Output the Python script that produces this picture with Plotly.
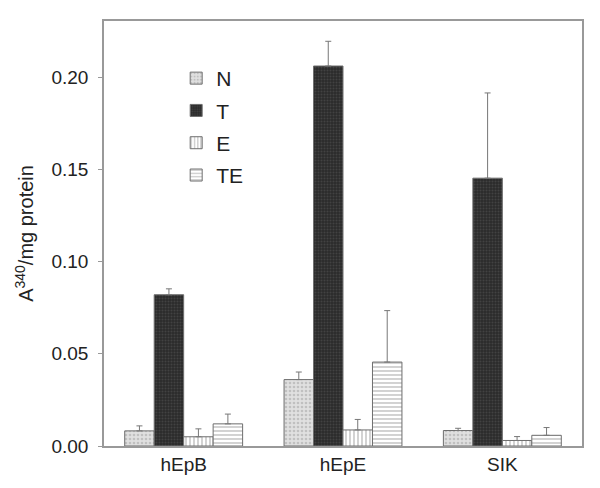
import plotly.graph_objects as go

categories = ["hEpB", "hEpE", "SIK"]
series_names = ["N", "T", "E", "TE"]
values_N = [0.0082, 0.0360, 0.0084]
values_T = [0.0820, 0.2060, 0.1452]
values_E = [0.0050, 0.0087, 0.0030]
values_TE = [0.0120, 0.0455, 0.0058]
err_N = [0.0027, 0.0041, 0.0012]
err_T = [0.0032, 0.0134, 0.0462]
err_E = [0.0043, 0.0057, 0.0021]
err_TE = [0.0053, 0.0279, 0.0042]
y_ticks = [0.00, 0.05, 0.10, 0.15, 0.20]

styles = {
    "N": dict(shape=".", bg="#e0e0e0", fg="#a0a0a0", size=4, solidity=0.35),
    "T": dict(shape=".", bg="#2b2b2b", fg="#5a5a5a", size=3, solidity=0.35),
    "E": dict(shape="|", bg="#ffffff", fg="#6a6a6a", size=4, solidity=0.3),
    "TE": dict(shape="-", bg="#ffffff", fg="#6a6a6a", size=4, solidity=0.3),
}

data = {"N": (values_N, err_N), "T": (values_T, err_T),
        "E": (values_E, err_E), "TE": (values_TE, err_TE)}

fig = go.Figure()
for name in series_names:
    vals, errs = data[name]
    st = styles[name]
    fig.add_trace(go.Bar(
        x=categories, y=vals, name=name, legendgroup=name,
        marker=dict(
            color=st["bg"],
            line=dict(color="#6e6e6e", width=1),
            pattern=dict(shape=st["shape"], fgcolor=st["fg"], bgcolor=st["bg"],
                         size=st["size"], solidity=st["solidity"]),
        ),
        error_y=dict(type="data", array=errs, arrayminus=[0] * len(errs),
                     symmetric=False, color="#777777", thickness=1, width=3),
    ))

# page body has an 8px default margin, so the figure is 8px smaller on each side
fig.update_layout(
    width=592, height=480,
    margin=dict(l=96, r=18, t=11, b=42),
    paper_bgcolor="white", plot_bgcolor="white",
    barmode="group", bargap=0.26, bargroupgap=0,
    font=dict(family="Liberation Sans, Arial, sans-serif", color="#222222"),
    showlegend=True,
    legend=dict(x=0.151, y=0.913, xanchor="left", yanchor="top",
                font=dict(size=21), bgcolor="rgba(0,0,0,0)",
                traceorder="grouped", tracegroupgap=2, itemwidth=30),
    xaxis=dict(range=[-0.5, 2.5], showline=True, linecolor="#999999", linewidth=1.5,
               mirror=True, ticks="", tickfont=dict(size=19), showgrid=False),
    yaxis=dict(range=[0, 0.2304], tickvals=y_ticks,
               ticktext=[f"{v:.2f}" for v in y_ticks],
               showline=True, linecolor="#999999", linewidth=1.5, mirror=True,
               ticks="outside", ticklen=4, tickcolor="#999999",
               ticklabelstandoff=6,
               tickfont=dict(size=19), showgrid=False, zeroline=False,
               title=dict(text="A<sup>340</sup>/mg protein", font=dict(size=20), standoff=12)),
)

fig.write_html("out.html")
